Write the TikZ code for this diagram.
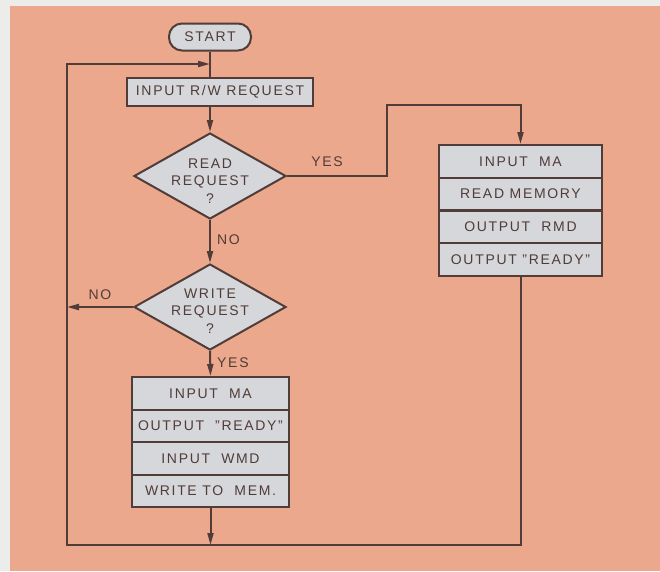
\documentclass[tikz,border=0pt]{standalone}
\usepackage{fontspec}
\setmainfont{Liberation Sans}[LetterSpace=12]
\usetikzlibrary{arrows.meta,shapes.geometric}
\definecolor{paper}{RGB}{236,168,140}
\definecolor{margin}{RGB}{236,236,234}
\definecolor{boxfill}{RGB}{214,215,218}
\definecolor{ink}{RGB}{80,60,56}
\tikzset{
  flow/.style={draw=ink, line width=2pt},
  arr/.style={flow, -{Triangle[length=12pt,width=6pt]}},
  term/.style={flow, fill=boxfill, rectangle, rounded corners=13pt, minimum width=82pt, minimum height=27pt, inner sep=0pt, text=ink, font=\fontsize{14}{16}\selectfont},
  proc/.style={flow, fill=boxfill, rectangle, inner sep=0pt, text=ink, font=\fontsize{14}{16}\selectfont},
  dec/.style={flow, fill=boxfill, diamond, minimum width=152pt, minimum height=86pt, inner sep=0pt},
  dtext/.style={align=center, text=ink, font=\fontsize{14}{17.5}\selectfont},
  lbl/.style={text=ink, font=\fontsize{14}{16}\selectfont, inner sep=0pt}
}
\begin{document}
\begin{tikzpicture}[x=1pt,y=-1pt]
\useasboundingbox (0,0) rectangle (660,571);
\fill[margin] (0,0) rectangle (660,571);
\fill[paper] (10,6) rectangle (660,571);

\node[term] (start) at (210,37) {START};
\node[proc, minimum width=186pt, minimum height=28pt] (inrw) at (220,92) {INPUT R/W REQUEST};

\node[dec] (rd) at (210,176) {};
\node[dtext] (rdt) at (210,181) {READ\\REQUEST\\?};
\node[dec] (wd) at (210,307) {};
\node[dtext] (wdt) at (210,311) {WRITE\\REQUEST\\?};

% write stack
\foreach \i/\t/\c in {1/{INPUT\ \ MA}/393.25, 2/{OUTPUT\ \ "READY"}/425.75, 3/{INPUT\ \ WMD}/458.25, 4/{WRITE TO\ \ MEM.}/490.75}{
  \node[proc, minimum width=157pt, minimum height=32.5pt] (w\i) at (210.5,\c) {\t};
}
% read stack
\foreach \i/\t/\c in {1/{INPUT\ \ MA}/161.4, 2/{READ MEMORY}/194.1, 3/{OUTPUT\ \ RMD}/226.9, 4/{OUTPUT "READY"}/259.6}{
  \node[proc, minimum width=163pt, minimum height=32.75pt] (r\i) at (520.5,\c) {\t};
}

\coordinate (loopin) at (210,64);
\coordinate (tl) at (67,64);
\coordinate (bl) at (67,545);
\coordinate (br) at (520.5,545);
\coordinate (jog) at (387,105);

\draw[flow] (start) -- (start |- inrw.north);
\draw[arr] (start |- inrw.south) -- (rd.north);
\draw[arr] (rd.south) -- (wd.north) node[lbl, pos=0.45, right=6pt] {NO};
\draw[arr] (wd.south) -- (w1.north) node[lbl, pos=0.45, right=6pt] {YES};
\draw[arr] (wd.west) -- (wd.west -| tl) node[lbl, pos=0.5, above=6pt] {NO};
\draw[arr] (rd.east) -- (rd.east -| jog) node[lbl, pos=0.4, above=8pt] {YES} -- (jog) -- (jog -| r1.north) -- (r1.north);
\draw[arr] (w4.south) -- (w4.south |- bl);
\draw[arr] (r4.south) -- (br) -- (bl) -- (tl) -- (loopin);
\end{tikzpicture}
\end{document}
